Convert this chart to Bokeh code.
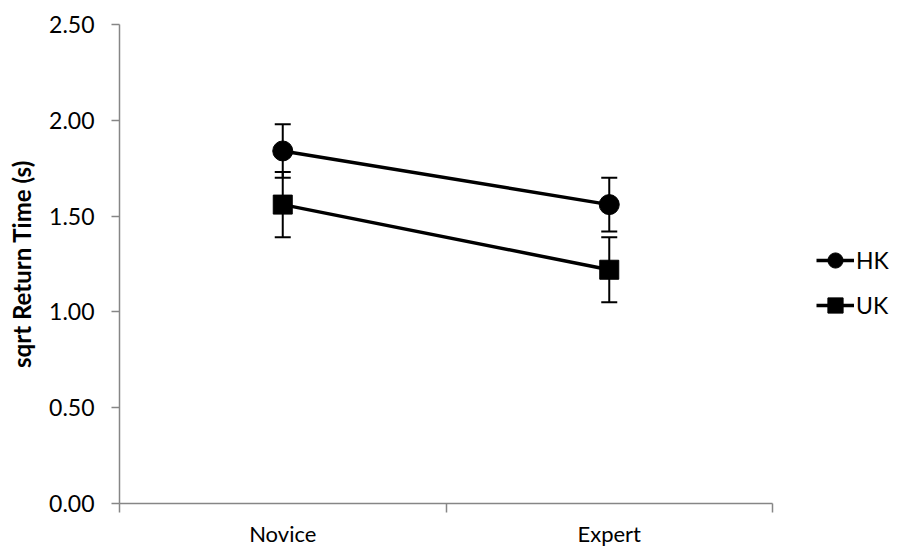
from bokeh.plotting import figure
from bokeh.models import (Range1d, FixedTicker, Whisker, TeeHead, ColumnDataSource,
                          Legend, LegendItem)
from bokeh.embed import file_html
from bokeh.resources import INLINE

categories = ["Novice", "Expert"]
hk_mean = [1.84, 1.56]
hk_err = [0.14, 0.14]
uk_mean = [1.56, 1.22]
uk_err = [0.17, 0.17]
y_ticks = [0.0, 0.5, 1.0, 1.5, 2.0, 2.5]
series_names = ["HK", "UK"]
y_title = "sqrt Return Time (s)"

FONT = "Lato"
FS = "23px"
AXIS_COL = "#868686"

x = [i + 0.5 for i in range(len(categories))]

p = figure(output_backend="svg", toolbar_location=None,
           frame_width=653, frame_height=479,
           x_range=Range1d(0, len(categories)), y_range=Range1d(y_ticks[0], y_ticks[-1]),
           min_border_left=119, min_border_top=24, min_border_right=137, min_border_bottom=47)
p.outline_line_color = None
p.xgrid.visible = False
p.ygrid.visible = False
p.background_fill_color = "white"
p.border_fill_color = "white"

# y axis
ya = p.yaxis[0]
ya.ticker = FixedTicker(ticks=y_ticks)
ya.major_label_overrides = {t: f"{t:.2f}" for t in y_ticks}
ya.axis_line_color = AXIS_COL
ya.axis_line_width = 1.5
ya.major_tick_line_color = AXIS_COL
ya.major_tick_line_width = 1.5
ya.major_tick_out = 8
ya.major_tick_in = 0
ya.minor_tick_line_color = None
ya.major_label_text_font = FONT
ya.major_label_text_font_size = FS
ya.major_label_text_color = "black"
ya.major_label_standoff = 17
ya.axis_label = y_title
ya.axis_label_text_font = FONT
ya.axis_label_text_font_size = "24px"
ya.axis_label_text_font_style = "bold"
ya.axis_label_text_color = "black"
ya.axis_label_standoff = 10

# x axis
xa = p.xaxis[0]
xa.ticker = FixedTicker(ticks=x, minor_ticks=list(range(len(categories) + 1)))
xa.major_label_overrides = {xi: c for xi, c in zip(x, categories)}
xa.axis_line_color = AXIS_COL
xa.axis_line_width = 1.5
xa.major_tick_line_color = None
xa.major_tick_out = 9
xa.major_tick_in = 0
xa.minor_tick_line_color = AXIS_COL
xa.minor_tick_line_width = 1.5
xa.minor_tick_out = 9
xa.minor_tick_in = 0
xa.major_label_text_font = FONT
xa.major_label_text_font_size = "22px"
xa.major_label_text_color = "black"
xa.major_label_standoff = 7

renderers = []
for name, mean, err, marker in [("HK", hk_mean, hk_err, "circle"),
                                ("UK", uk_mean, uk_err, "square")]:
    src = ColumnDataSource(dict(x=x, y=mean,
                                upper=[m + e for m, e in zip(mean, err)],
                                lower=[m - e for m, e in zip(mean, err)]))
    w = Whisker(source=src, base="x", upper="upper", lower="lower",
                line_color="black", line_width=2,
                upper_head=TeeHead(size=16, line_color="black", line_width=2),
                lower_head=TeeHead(size=16, line_color="black", line_width=2))
    p.add_layout(w)
    ln = p.line("x", "y", source=src, line_color="black", line_width=3.5)
    mk = p.scatter("x", "y", source=src, marker=marker, size=20 if marker == "circle" else 19,
                   fill_color="black", line_color="black")
    renderers.append((name, ln, mk))

legend = Legend(items=[LegendItem(label=n, renderers=[l, m]) for n, l, m in renderers],
                location=(44, 177), orientation="vertical",
                glyph_width=38, glyph_height=42, label_height=42, spacing=3,
                padding=0, margin=0, border_line_color=None, background_fill_alpha=0,
                label_text_font=FONT, label_text_font_size=FS, label_standoff=2,
                label_text_color="black")
p.add_layout(legend, "right")

open("out.html", "w").write(file_html(p, INLINE))
